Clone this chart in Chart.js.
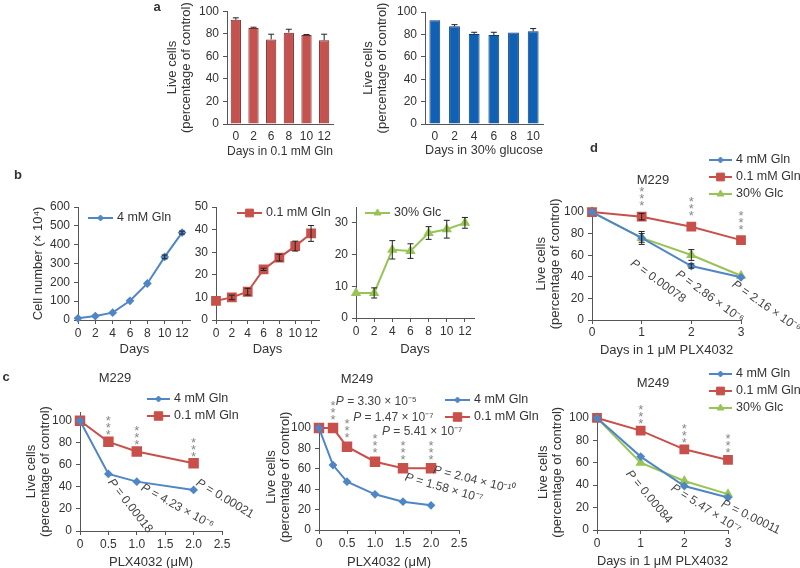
<!DOCTYPE html>
<html>
<head>
<meta charset="utf-8">
<script src="https://cdn.jsdelivr.net/npm/chart.js@4.4.1/dist/chart.umd.min.js"></script>
<style>
  body { margin: 0; background: #fff; width: 800px; height: 568px; overflow: hidden; position: relative;
         font-family: "Liberation Sans", Arial, sans-serif; color: #333; }
  canvas { position: absolute; left: 0; top: 0; }
  .lbl { position: absolute; font-size: 13px; transform: translate(-50%, -50%); white-space: nowrap; }
  .let { font-weight: bold; }
</style>
</head>
<body>
<canvas id="a1" width="800" height="568"></canvas>
<canvas id="a2" width="800" height="568"></canvas>
<canvas id="b1" width="800" height="568"></canvas>
<canvas id="b2" width="800" height="568"></canvas>
<canvas id="b3" width="800" height="568"></canvas>
<canvas id="c1" width="800" height="568"></canvas>
<canvas id="c2" width="800" height="568"></canvas>
<canvas id="d1" width="800" height="568"></canvas>
<canvas id="d2" width="800" height="568"></canvas>

<div class="lbl let" style="left:157px;top:6px">a</div>
<div class="lbl let" style="left:18px;top:174px">b</div>
<div class="lbl let" style="left:6px;top:376px">c</div>
<div class="lbl let" style="left:594px;top:147px">d</div>
<div class="lbl" style="left:115px;top:377px">M229</div>
<div class="lbl" style="left:357px;top:378px">M249</div>
<div class="lbl" style="left:653px;top:179px">M229</div>
<div class="lbl" style="left:653px;top:382px">M249</div>

<script>
// ---- data (panel a) ----
var daysGln = ['0', '2', '6', '8', '10', '12'];
var liveGln = [92.4, 85.2, 75, 81, 79, 74.2];
var liveGlnErr = [1.7, 0.6, 4.6, 3, 0.3, 5.4];
var daysGlc = ['0', '2', '4', '6', '8', '10'];
var liveGlc = [92.6, 87.2, 80.4, 79.5, 81.6, 82.8];
var liveGlcErr = [0, 1.5, 1.5, 2.4, 0, 2.4];

// ---- data (panel b) ----
var growthDays = [0, 2, 4, 6, 8, 10, 12];
var growth4mM = [9, 21, 39, 102, 194, 335, 464];
var growth4mMErr = [0, 0, 0, 0, 0, 10, 8];
var growth01mM = [8.5, 10, 12.5, 22.4, 27.6, 32.7, 38.3];
var growth01mMErr = [0, 1, 1.5, 0.5, 1.5, 2.2, 3.5];
var growthGlc = [7.9, 7.9, 21.5, 21.1, 26.8, 28, 30];
var growthGlcErr = [0, 1.6, 2.9, 2.3, 2, 2.8, 1.7];

// ---- data (panel c) ----
var plxM229 = [0, 0.5, 1, 2];
var m229Gln4 = [100, 51.8, 44.8, 37.3];
var m229Gln01 = [100, 80.9, 72.1, 61.5];
var m229P = ['0.00018', '4.23 \u00d7 10\u207b\u2076', '0.00021'];
var plxM249 = [0, 0.25, 0.5, 1, 1.5, 2];
var m249Gln4 = [100, 63.7, 47.4, 35, 27.8, 24.2];
var m249Gln01 = [100, 100, 81.7, 67, 60.5, 60.5];
var m249P = ['3.30 \u00d7 10\u207b\u2075', '1.47 \u00d7 10\u207b\u2077', '5.41 \u00d7 10\u207b\u2077',
             '1.58 \u00d7 10\u207b\u2077', '2.04 \u00d7 10\u207b\u00b9\u2070'];

// ---- data (panel d) ----
var plxDays = [0, 1, 2, 3];
var dM229Gln4 = [100, 76, 50, 39.5];
var dM229Gln4Err = [0, 4, 2, 0];
var dM229Gln01 = [100, 95.7, 86.4, 74];
var dM229Gln01Err = [0, 3, 0, 0];
var dM229Glc = [100, 76, 60.2, 41];
var dM229GlcErr = [0, 6, 5, 0];
var dM229P = ['0.00078', '2.86 \u00d7 10\u207b\u2076', '2.16 \u00d7 10\u207b\u2076'];
var dM249Gln4 = [100, 65.5, 39.3, 29];
var dM249Gln01 = [100, 88.7, 72, 62.5];
var dM249Glc = [100, 60, 43.7, 32];
var dM249P = ['0.00084', '5.47 \u00d7 10\u207b\u2077', '0.00011'];

var FONT = '"Liberation Sans", Arial, sans-serif';
var ink = '#333';
var axisCol = '#555';
var blue = '#4f86c6', red = '#c8504a', green = '#98c455';

Chart.defaults.font.family = FONT;
Chart.defaults.color = ink;
Chart.defaults.animation = false;
Chart.defaults.events = [];
Chart.defaults.plugins.legend.display = false;
Chart.defaults.plugins.tooltip.enabled = false;

// error bars (dataset.errors, dataset.errUp for bars)
var errPlugin = {
  id: 'errs',
  afterDatasetsDraw: function(chart) {
    var ctx = chart.ctx, ys = chart.scales.y;
    chart.data.datasets.forEach(function(ds, di) {
      if (!ds.errors) return;
      var meta = chart.getDatasetMeta(di);
      ds.errors.forEach(function(e, i) {
        if (!e) return;
        var el = meta.data[i];
        var v = typeof ds.data[i] === 'object' ? ds.data[i].y : ds.data[i];
        var top = ys.getPixelForValue(v + e);
        var bot = ds.errUp ? el.y : ys.getPixelForValue(v - e);
        ctx.save();
        ctx.strokeStyle = '#222';
        ctx.lineWidth = 1;
        ctx.beginPath();
        ctx.moveTo(el.x, top); ctx.lineTo(el.x, bot);
        ctx.moveTo(el.x - 3, top); ctx.lineTo(el.x + 3, top);
        if (!ds.errUp) { ctx.moveTo(el.x - 3, bot); ctx.lineTo(el.x + 3, bot); }
        ctx.stroke();
        ctx.restore();
      });
    });
  }
};

// legend with line + marker
var keyPlugin = {
  id: 'key',
  afterDraw: function(chart, args, o) {
    if (o.x == null) return;
    var ctx = chart.ctx;
    chart.data.datasets.forEach(function(ds, i) {
      var y = o.y + i * o.gap;
      ctx.save();
      ctx.strokeStyle = ds.borderColor;
      ctx.fillStyle = ds.borderColor;
      ctx.lineWidth = 2;
      ctx.beginPath(); ctx.moveTo(o.x, y); ctx.lineTo(o.x + o.len, y); ctx.stroke();
      ctx.lineWidth = 1;
      Chart.helpers.drawPoint(ctx, { pointStyle: ds.pointStyle, radius: ds.pointRadius, borderWidth: 1, rotation: 0 },
                              o.x + o.len / 2, y);
      ctx.fillStyle = ink;
      ctx.font = '12.5px ' + FONT;
      ctx.textBaseline = 'middle';
      ctx.fillText(ds.label, o.x + o.len + 4, y);
      ctx.restore();
    });
  }
};

// significance stars and P-values
var notesPlugin = {
  id: 'notes',
  afterDatasetsDraw: function(chart, args, o) {
    var ctx = chart.ctx, xs = chart.scales.x, ys = chart.scales.y;
    ctx.save();
    if (o.stars) {
      var meta = chart.getDatasetMeta(o.stars.dataset);
      ctx.fillStyle = '#888';
      ctx.font = '13px ' + FONT;
      ctx.textAlign = 'center';
      ctx.textBaseline = 'top';
      o.stars.idx.forEach(function(i) {
        var p = meta.data[i];
        for (var k = 0; k < 3; k++) {
          ctx.fillText('*', p.x, p.y - o.stars.gap - k * 7 - 3.6);
        }
      });
    }
    (o.texts || []).forEach(function(t) {
      ctx.save();
      ctx.translate(xs.getPixelForValue(t.x), ys.getPixelForValue(t.y));
      ctx.rotate(t.rot * Math.PI / 180);
      ctx.fillStyle = '#444';
      ctx.textAlign = 'left';
      ctx.textBaseline = 'middle';
      ctx.font = 'italic 12px ' + FONT;
      ctx.fillText('P', 0, 0);
      var w = ctx.measureText('P').width;
      ctx.font = '12px ' + FONT;
      ctx.fillText(' = ' + t.text, w, 0);
      ctx.restore();
    });
    ctx.restore();
  }
};

Chart.register(errPlugin, keyPlugin, notesPlugin);

// area = [left, top, right, bottom] of plot area on the page
function frame(area, yW, xH) {
  return { padding: { left: area[0] - yW, top: area[1], right: 800 - area[2], bottom: 568 - area[3] - xH } };
}

function yAxis(max, step, yW, title) {
  return {
    min: 0, max: max,
    ticks: { stepSize: step, includeBounds: false, padding: 4, color: ink, font: { size: 12 } },
    grid: { display: true, drawOnChartArea: false, drawTicks: true, tickLength: 4, color: axisCol },
    border: { color: axisCol, width: 1 },
    title: title ? { display: true, text: title, color: ink, font: { size: 13, lineHeight: 1.1 }, padding: 0 }
                 : { display: false },
    afterFit: function(s) { s.width = yW; }
  };
}

function xLin(max, step, xH, title, pad, fmt) {
  return {
    type: 'linear', min: 0, max: max,
    ticks: { stepSize: step, includeBounds: false, padding: pad, color: ink, font: { size: 12 },
             maxRotation: 0, minRotation: 0, autoSkip: false,
             callback: fmt || function(v) { return v; } },
    grid: { display: true, drawOnChartArea: false, drawTicks: true, tickLength: 4, color: axisCol },
    border: { color: axisCol, width: 1 },
    title: { display: true, text: title, color: ink, font: { size: 13 }, padding: 0 },
    afterFit: function(s) { s.height = xH; }
  };
}

function xCat(xH, title) {
  return {
    type: 'category', offset: true,
    ticks: { padding: 5, color: ink, font: { size: 12 }, maxRotation: 0, minRotation: 0, autoSkip: false },
    grid: { display: false, drawTicks: false },
    border: { color: axisCol, width: 1 },
    title: { display: true, text: title, color: ink, font: { size: 13 }, padding: 0 },
    afterFit: function(s) { s.height = xH; }
  };
}

function series(label, xs, ys, errs, color, style, radius) {
  return {
    label: label,
    data: xs.map(function(x, i) { return { x: x, y: ys[i] }; }),
    errors: errs,
    borderColor: color, backgroundColor: color,
    pointStyle: style, pointRadius: radius,
    pointBackgroundColor: color, pointBorderColor: color,
    borderWidth: 2, tension: 0, clip: false
  };
}

var liveTitle = ['Live cells', '(percentage of control)'];
var dec1 = function(v) { return v === 0 ? '0' : v.toFixed(1); };

// ---- a ----
new Chart(document.getElementById('a1'), {
  type: 'bar',
  data: { labels: daysGln, datasets: [{ data: liveGln, errors: liveGlnErr, errUp: true,
    backgroundColor: '#c4524e', borderColor: '#7a2a28', borderWidth: 1,
    barPercentage: 0.58, categoryPercentage: 1 }] },
  options: { responsive: false, layout: frame([227, 6, 333, 124], 62, 35),
    scales: { x: xCat(35, 'Days in 0.1 mM Gln'), y: yAxis(100, 20, 62, liveTitle) } }
});
new Chart(document.getElementById('a2'), {
  type: 'bar',
  data: { labels: daysGlc, datasets: [{ data: liveGlc, errors: liveGlcErr, errUp: true,
    backgroundColor: '#1060b4', borderColor: '#0a3c78', borderWidth: 1,
    barPercentage: 0.55, categoryPercentage: 1 }] },
  options: { responsive: false, layout: frame([425, 12, 543, 124], 64, 34),
    scales: { x: xCat(34, 'Days in 30% glucose'), y: yAxis(100, 20, 64, liveTitle) } }
});

// ---- b ----
new Chart(document.getElementById('b1'), {
  type: 'line',
  data: { datasets: [series('4 mM Gln', growthDays, growth4mM, growth4mMErr, blue, 'rectRot', 3)] },
  options: { responsive: false, layout: frame([78, 207, 190.7, 320], 47, 37),
    scales: { x: xLin(13, 2, 37, 'Days', 2), y: yAxis(600, 100, 47, 'Cell number (\u00d7 10\u2074)') },
    plugins: { key: { x: 88, y: 218, gap: 17, len: 25 } } }
});
new Chart(document.getElementById('b2'), {
  type: 'line',
  data: { datasets: [series('0.1 mM Gln', growthDays, growth01mM, growth01mMErr, red, 'rect', 5.5)] },
  options: { responsive: false, layout: frame([216, 207, 319, 320], 30, 37),
    scales: { x: xLin(13, 2, 37, 'Days', 2), y: yAxis(50, 10, 30) },
    plugins: { key: { x: 237, y: 213, gap: 17, len: 25 } } }
});
new Chart(document.getElementById('b3'), {
  type: 'line',
  data: { datasets: [series('30% Glc', growthDays, growthGlc, growthGlcErr, green, 'triangle', 4)] },
  options: { responsive: false, layout: frame([356, 207, 474, 318], 30, 39),
    scales: { x: xLin(13, 2, 39, 'Days', 2), y: yAxis(35, 5, 30) },
    plugins: { key: { x: 365, y: 213, gap: 17, len: 25 } } }
});

// ---- c ----
new Chart(document.getElementById('c1'), {
  type: 'line',
  data: { datasets: [
    series('4 mM Gln', plxM229, m229Gln4, null, blue, 'rectRot', 3),
    series('0.1 mM Gln', plxM229, m229Gln01, null, red, 'rect', 6)] },
  options: { responsive: false, layout: frame([80, 412, 222, 531], 56, 39),
    scales: { x: xLin(2.5, 0.5, 39, 'PLX4032 (\u03bcM)', 2, dec1), y: yAxis(108, 20, 56, liveTitle) },
    plugins: {
      key: { x: 147, y: 399, gap: 17, len: 23 },
      notes: { stars: { dataset: 1, idx: [1, 2, 3], gap: 9 },
        texts: [ { x: 0.53, y: 46, rot: 52, text: m229P[0] },
                 { x: 1.09, y: 40, rot: 29, text: m229P[1] },
                 { x: 2.06, y: 44.5, rot: 31, text: m229P[2] } ] } } }
});
new Chart(document.getElementById('c2'), {
  type: 'line',
  data: { datasets: [
    series('4 mM Gln', plxM249, m249Gln4, null, blue, 'rectRot', 3),
    series('0.1 mM Gln', plxM249, m249Gln01, null, red, 'rect', 6)] },
  options: { responsive: false, layout: frame([319, 424, 459, 530], 55, 40),
    scales: { x: xLin(2.5, 0.5, 40, 'PLX4032 (\u03bcM)', 2, dec1), y: yAxis(104, 20, 55, liveTitle) },
    plugins: {
      key: { x: 445, y: 400, gap: 17, len: 25 },
      notes: { stars: { dataset: 1, idx: [1, 2, 3, 4, 5], gap: 11 },
        texts: [ { x: 0.3, y: 125.5, rot: 0, text: m249P[0] },
                 { x: 0.61, y: 110, rot: 0, text: m249P[1] },
                 { x: 1.125, y: 96, rot: 0, text: m249P[2] },
                 { x: 1.54, y: 52, rot: 16, text: m249P[3] },
                 { x: 2.04, y: 59, rot: 14, text: m249P[4] } ] } } }
});

// ---- d ----
new Chart(document.getElementById('d1'), {
  type: 'line',
  data: { datasets: [
    series('4 mM Gln', plxDays, dM229Gln4, dM229Gln4Err, blue, 'rectRot', 3),
    series('0.1 mM Gln', plxDays, dM229Gln01, dM229Gln01Err, red, 'rect', 5.5),
    series('30% Glc', plxDays, dM229Glc, dM229GlcErr, green, 'triangle', 4)] },
  options: { responsive: false, layout: frame([592, 207.7, 741, 320], 58, 38),
    scales: { x: xLin(3, 1, 38, 'Days in 1 \u03bcM PLX4032', 1), y: yAxis(104, 20, 58, liveTitle) },
    plugins: {
      key: { x: 709, y: 160, gap: 17, len: 23 },
      notes: { stars: { dataset: 1, idx: [1, 2, 3], gap: 13 },
        texts: [ { x: 0.8, y: 53.7, rot: 36, text: dM229P[0] },
                 { x: 1.71, y: 43.5, rot: 36, text: dM229P[1] },
                 { x: 2.84, y: 34, rot: 35, text: dM229P[2] } ] } } }
});
new Chart(document.getElementById('d2'), {
  type: 'line',
  data: { datasets: [
    series('4 mM Gln', plxDays, dM249Gln4, null, blue, 'rectRot', 3),
    series('0.1 mM Gln', plxDays, dM249Gln01, null, red, 'rect', 5.5),
    series('30% Glc', plxDays, dM249Glc, null, green, 'triangle', 4)] },
  options: { responsive: false, layout: frame([597, 414.6, 728, 530], 61, 39),
    scales: { x: xLin(3, 1, 39, 'Days in 1 \u03bcM PLX4032', 2), y: yAxis(103, 20, 61, liveTitle) },
    plugins: {
      key: { x: 709, y: 374, gap: 17, len: 23 },
      notes: { stars: { dataset: 1, idx: [1, 2, 3], gap: 9 },
        texts: [ { x: 0.71, y: 51.8, rot: 50, text: dM249P[0] },
                 { x: 1.72, y: 38.4, rot: 33, text: dM249P[1] },
                 { x: 2.86, y: 24, rot: 26, text: dM249P[2] } ] } } }
});
</script>
</body>
</html>
